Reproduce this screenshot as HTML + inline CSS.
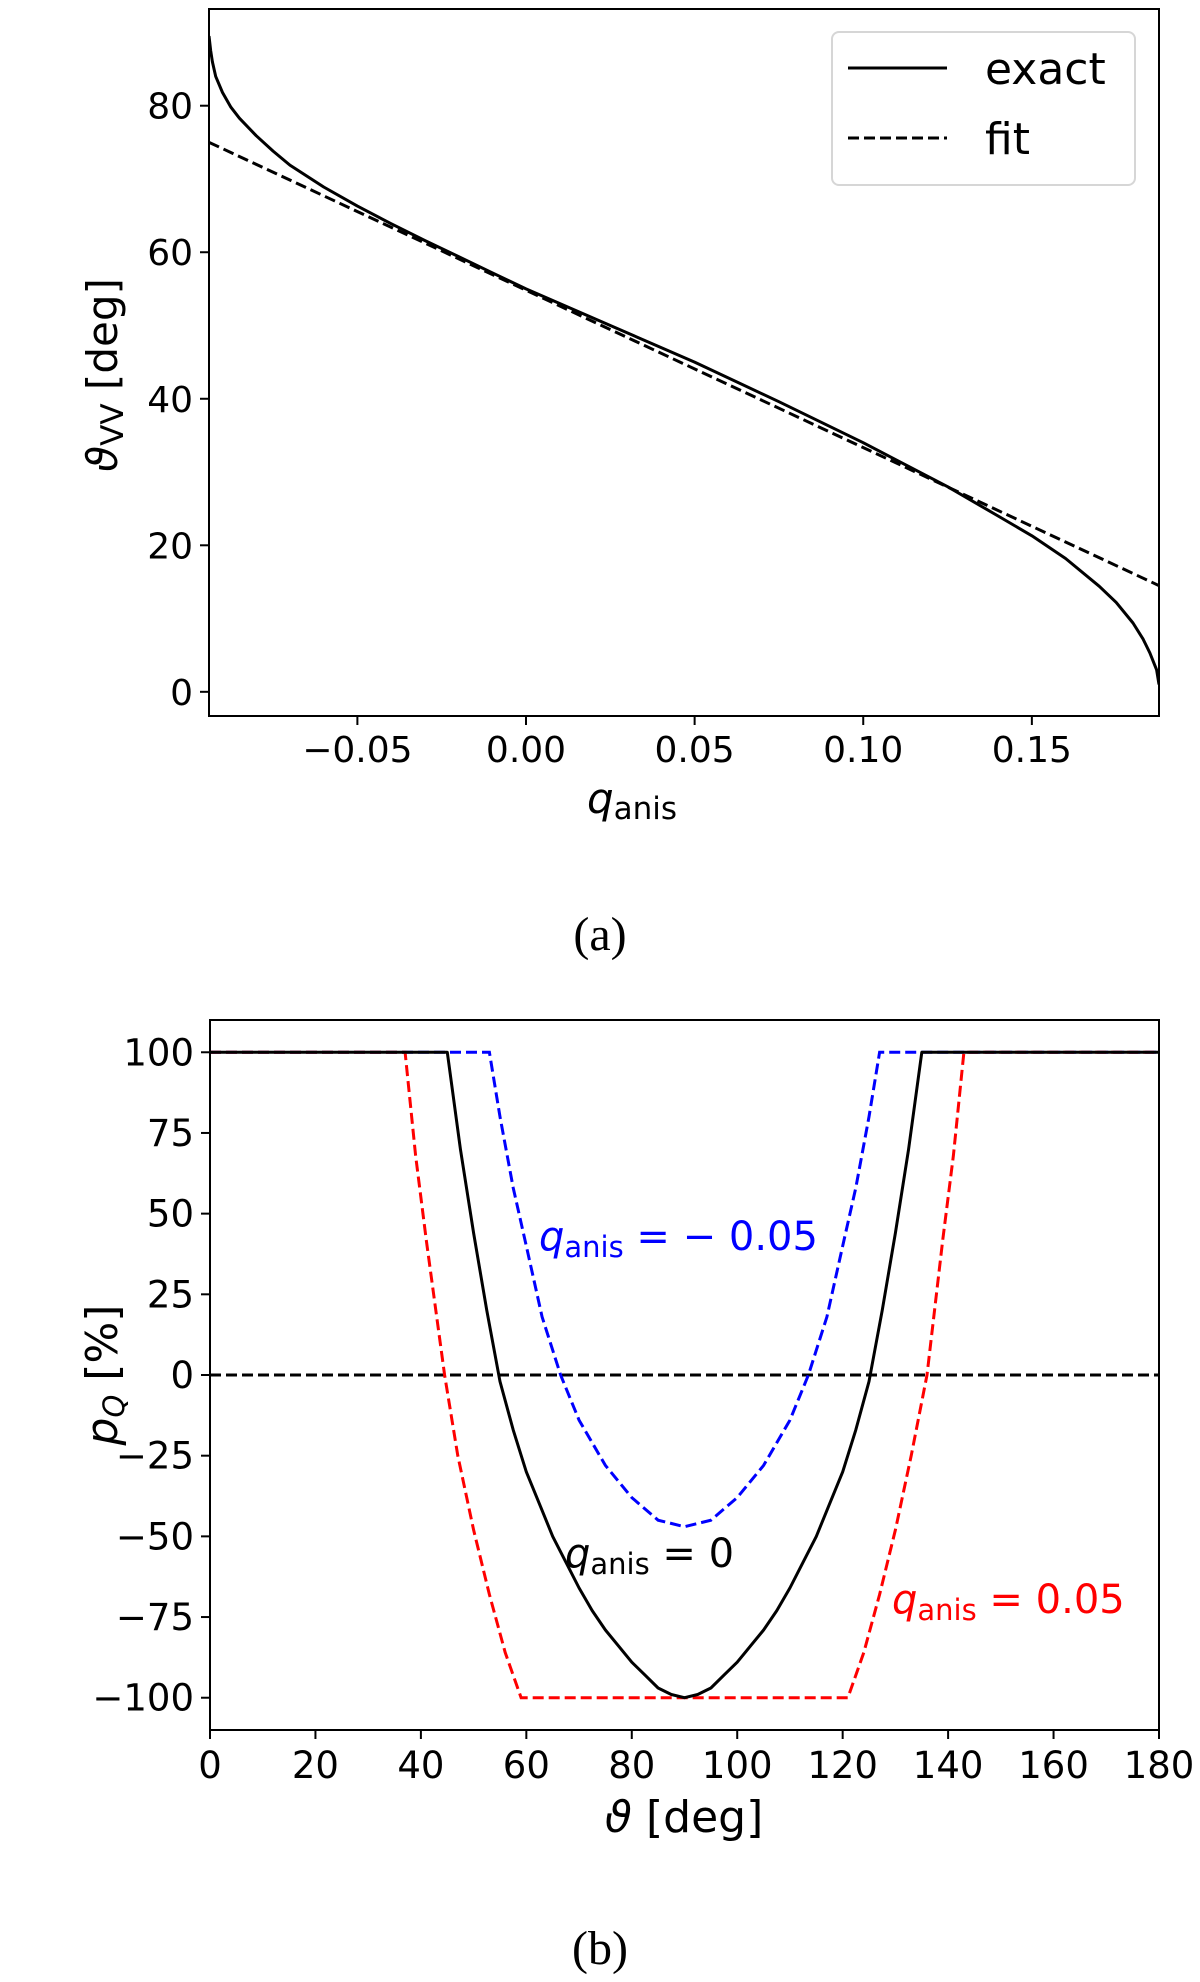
<!DOCTYPE html>
<html><head><meta charset="utf-8">
<style>
html,body{margin:0;padding:0;background:#fff;}
svg{display:block;}
text{font-family:"DejaVu Sans","Liberation Sans",sans-serif;}
.cap{font-family:"Liberation Serif","DejaVu Serif",serif;}
</style></head>
<body>
<svg id="fig" width="1200" height="1982" viewBox="0 0 1200 1982" xmlns="http://www.w3.org/2000/svg"></svg>
<script>
// ---- Panel (a) data ----
const exactQ = [-0.094,-0.0935,-0.093,-0.092,-0.09,-0.0875,-0.085,-0.08,-0.075,-0.07,-0.06,-0.05,-0.04,-0.03,-0.02,-0.01,0,0.025,0.05,0.075,0.1,0.125,0.14,0.15,0.16,0.17,0.175,0.18,0.183,0.185,0.187,0.1877];
const exactTheta = [89.5,87.5,86,84,81.8,79.8,78.3,75.9,73.8,71.9,68.9,66.3,63.9,61.6,59.4,57.2,55,50,45,39.6,34,28,24,21.3,18.2,14.4,12.2,9.4,7.2,5.3,3,1];
const fitQ = [-0.094,0.1877];
const fitTheta = [75,14.5];
const aXTicks = [-0.05,0,0.05,0.1,0.15];
const aXTickLabels = ["\u22120.05","0.00","0.05","0.10","0.15"];
const aYTicks = [0,20,40,60,80];
const aYTickLabels = ["0","20","40","60","80"];
// ---- Panel (b) data ----
const bTheta0 = [0,45,47.5,50,52.5,55,57.5,60,62.5,65,67.5,70,72.5,75,77.5,80,82.5,85,87.5,90,92.5,95,97.5,100,102.5,105,107.5,110,112.5,115,117.5,120,122.5,125,127.5,130,132.5,135,180];
const bP0 = [100,100,70,44,20,-2,-17,-30,-40,-50,-58,-66,-73,-79,-84,-89,-93,-97,-99,-100,-99,-97,-93,-89,-84,-79,-73,-66,-58,-50,-40,-30,-17,-2,20,44,70,100,100];
const bThetaNeg = [0,53,55,57.5,60,63,66.5,70,75,80,85,90,95,100,105,110,113.5,117,120,122.5,125,127,180];
const bPNeg = [100,100,80,58,40,18,0,-14,-28,-38,-45,-47,-45,-38,-28,-14,0,18,40,58,80,100,100];
const bThetaPos = [0,37,39,41,44.5,47,50,53,56,59,121,124,127,130,133,136,139,141,143,180];
const bPPos = [100,100,68,42,0,-25,-48,-68,-86,-100,-100,-86,-68,-48,-25,0,42,68,100,100];
const bXTicks = [0,20,40,60,80,100,120,140,160,180];
const bYTicks = [100,75,50,25,0,-25,-50,-75,-100];
const bYTickLabels = ["100","75","50","25","0","\u221225","\u221250","\u221275","\u2212100"];

const NS="http://www.w3.org/2000/svg";
const svg=document.getElementById('fig');
function el(tag,attrs,parent){const e=document.createElementNS(NS,tag);for(const k in attrs)e.setAttribute(k,attrs[k]);(parent||svg).appendChild(e);return e;}

const aL=209,aR=1159,aT=9,aB=716,aXmin=-0.094,aXmax=0.1877,aYmin=-3.3,aYmax=93.2;
const ax=v=>aL+(v-aXmin)/(aXmax-aXmin)*(aR-aL);
const ay=v=>aB-(v-aYmin)/(aYmax-aYmin)*(aB-aT);
const bL=210,bR=1159,bT=1020,bB=1730,bYmin=-110,bYmax=110;
const bx=v=>bL+v/180*(bR-bL);
const by=v=>bB-(v-bYmin)/(bYmax-bYmin)*(bB-bT);

function pathD(xs,ys,fx,fy){return xs.map((x,i)=>(i?'L':'M')+fx(x).toFixed(1)+','+fy(ys[i]).toFixed(1)).join('');}

const defs=el('defs',{});
const ca=el('clipPath',{id:'ca'},defs);el('rect',{x:aL,y:aT,width:aR-aL,height:aB-aT},ca);
const cb=el('clipPath',{id:'cb'},defs);el('rect',{x:bL,y:bT,width:bR-bL,height:bB-bT},cb);

// ---- Panel (a) ----
const ga=el('g',{});


const fitPath=el('path',{d:pathD(fitQ,fitTheta,ax,ay),fill:'none',stroke:'#000','stroke-width':3,'stroke-dasharray':'11,5','clip-path':'url(#ca)'},ga);


const exPath=el('path',{d:pathD(exactQ,exactTheta,ax,ay),fill:'none',stroke:'#000','stroke-width':3,'stroke-linejoin':'round','clip-path':'url(#ca)'},ga);


const fa=el('rect',{x:aL,y:aT,width:aR-aL,height:aB-aT,fill:'none',stroke:'#000','stroke-width':2},ga);


aXTicks.forEach((v,i)=>{
  el('line',{x1:ax(v),x2:ax(v),y1:aB,y2:aB+9,stroke:'#000','stroke-width':2},ga);
  const t=el('text',{x:ax(v),y:aB+46,'font-size':36,'text-anchor':'middle'},ga);
  t.textContent=aXTickLabels[i];
  
  
});
aYTicks.forEach((v,i)=>{
  el('line',{x1:aL-9,x2:aL,y1:ay(v),y2:ay(v),stroke:'#000','stroke-width':2},ga);
  const t=el('text',{x:aL-16,y:ay(v)+13,'font-size':36,'text-anchor':'end'},ga);
  t.textContent=aYTickLabels[i];
  
  
});
const lg=el('g',{},ga);


el('rect',{x:832,y:32,width:303,height:153,rx:7,fill:'#fff',stroke:'#d6d6d6','stroke-width':2},lg);
el('line',{x1:848,x2:947,y1:68,y2:68,stroke:'#000','stroke-width':3},lg);
el('line',{x1:848,x2:947,y1:138,y2:138,stroke:'#000','stroke-width':3,'stroke-dasharray':'11,5'},lg);
const le1=el('text',{x:985,y:84,'font-size':44},lg);le1.textContent='exact';


const le2=el('text',{x:985,y:154,'font-size':44},lg);le2.textContent='fit';


const axt=el('text',{x:632,y:813,'font-size':42,'text-anchor':'middle'},ga);
axt.innerHTML='<tspan font-style="italic">q</tspan><tspan font-size="31" dy="6">anis</tspan>';


const ayt=el('text',{x:0,y:0,'font-size':42,'text-anchor':'middle',transform:'translate(117,375) rotate(-90)'},ga);
ayt.innerHTML='<tspan font-style="italic">\u03d1</tspan><tspan font-size="31" dy="6">VV</tspan><tspan dy="-6"> [deg]</tspan>';


const capa=el('text',{x:600,y:950,'font-size':48,'text-anchor':'middle','class':'cap'},ga);
capa.textContent='(a)';



// ---- Panel (b) ----
const gb=el('g',{});


const zl=el('line',{x1:bL,x2:bR,y1:by(0),y2:by(0),stroke:'#000','stroke-width':3,'stroke-dasharray':'11,5'},gb);


const pn=el('path',{d:pathD(bThetaNeg,bPNeg,bx,by),fill:'none',stroke:'#0000ff','stroke-width':3,'stroke-dasharray':'11,5','clip-path':'url(#cb)'},gb);


const pp=el('path',{d:pathD(bThetaPos,bPPos,bx,by),fill:'none',stroke:'#ff0000','stroke-width':3,'stroke-dasharray':'11,5','clip-path':'url(#cb)'},gb);


const p0=el('path',{d:pathD(bTheta0,bP0,bx,by),fill:'none',stroke:'#000','stroke-width':3,'stroke-linejoin':'round','clip-path':'url(#cb)'},gb);


const fb=el('rect',{x:bL,y:bT,width:bR-bL,height:bB-bT,fill:'none',stroke:'#000','stroke-width':2},gb);


bXTicks.forEach(v=>{
  el('line',{x1:bx(v),x2:bx(v),y1:bB,y2:bB+9,stroke:'#000','stroke-width':2},gb);
  const t=el('text',{x:bx(v),y:bB+48,'font-size':37,'text-anchor':'middle'},gb);
  t.textContent=String(v);
  
  
});
bYTicks.forEach((v,i)=>{
  el('line',{x1:bL-9,x2:bL,y1:by(v),y2:by(v),stroke:'#000','stroke-width':2},gb);
  const t=el('text',{x:bL-16,y:by(v)+13,'font-size':37,'text-anchor':'end'},gb);
  t.textContent=bYTickLabels[i];
  
  
});
function qlabel(x,y,color,val,name){
  const t=el('text',{x:x,y:y,'font-size':40,fill:color},gb);
  t.innerHTML='<tspan font-style="italic">q</tspan><tspan font-size="29" dy="7">anis</tspan><tspan dy="-7"> = '+val+'</tspan>';
  
  
}
qlabel(539,1250,'#0000ff','\u2212 0.05','label-q-neg');
qlabel(565,1567,'#000','0','label-q-zero');
qlabel(892,1613,'#ff0000','0.05','label-q-pos');
const bxt=el('text',{x:684,y:1832,'font-size':44,'text-anchor':'middle'},gb);
bxt.innerHTML='<tspan font-style="italic">\u03d1</tspan> [deg]';


const byt=el('text',{x:0,y:0,'font-size':44,'text-anchor':'middle',transform:'translate(117,1375) rotate(-90)'},gb);
byt.innerHTML='<tspan font-style="italic">p</tspan><tspan font-size="29" font-style="italic" dy="7">Q</tspan><tspan dy="-7"> [%]</tspan>';


const capb=el('text',{x:600,y:1964,'font-size':48,'text-anchor':'middle','class':'cap'},gb);
capb.textContent='(b)';


</script>
</body></html>
